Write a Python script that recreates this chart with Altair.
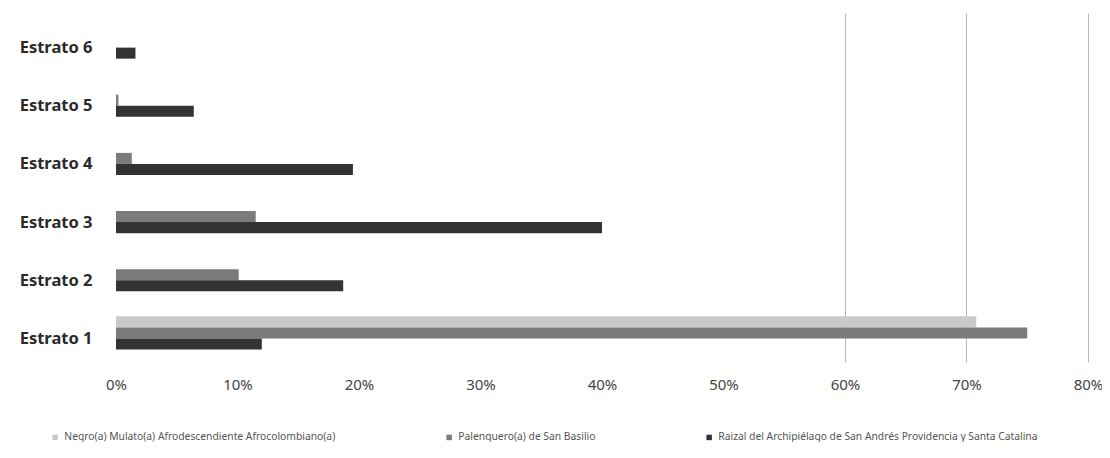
import altair as alt
import pandas as pd

estratos = ["Estrato 6", "Estrato 5", "Estrato 4", "Estrato 3", "Estrato 2", "Estrato 1"]
series = [
    "Negro(a) Mulato(a) Afrodescendiente Afrocolombiano(a)",
    "Palenquero(a) de San Basilio",
    "Raizal del Archipiélago de San Andrés Providencia y Santa Catalina",
]
negro = [0.0, 0.0, 0.0, 0.0, 0.0, 0.708]
palenquero = [0.0, 0.002, 0.013, 0.115, 0.101, 0.750]
raizal = [0.016, 0.064, 0.195, 0.400, 0.187, 0.120]
colors = ["#c9c9c9", "#7b7b7b", "#333333"]

rows = []
for vals, s in zip([negro, palenquero, raizal], series):
    for e, v in zip(estratos, vals):
        rows.append({"estrato": e, "serie": s, "valor": v})
df = pd.DataFrame(rows)

FONT = "Noto Sans"

chart = alt.Chart(df).mark_bar().encode(
    y=alt.Y("estrato:N", sort=estratos, title=None,
            scale=alt.Scale(paddingInner=0.43, paddingOuter=0.215),
            axis=alt.Axis(domain=False, ticks=False, labelFontSize=16.5,
                          labelFontWeight="bold",
                          labelColor="#2a2a2a", labelPadding=24, labelFont=FONT,
                          labelOffset=6)),
    yOffset=alt.YOffset("serie:N", sort=series),
    x=alt.X("valor:Q", title=None,
            scale=alt.Scale(domain=[0, 0.8]),
            axis=alt.Axis(format="%", values=[0, 0.1, 0.2, 0.3, 0.4, 0.5, 0.6, 0.7, 0.8],
                          domain=False, ticks=False, labelFontSize=15, labelFlush=False,
                          labelColor="#444", labelPadding=15, labelFont=FONT,
                          gridColor=alt.condition("datum.value >= 0.6", alt.value("#b5b5b5"), alt.value("#ffffff")))),
    color=alt.Color("serie:N", sort=series,
                    scale=alt.Scale(domain=series, range=colors),
                    legend=alt.Legend(title=None, orient="none", direction="horizontal",
                                      legendX=-66, legendY=419, symbolType="square",
                                      symbolSize=30, labelFontSize=10.3, labelColor="#555",
                                      labelFont=FONT, columnPadding=108, labelLimit=0)),
).properties(
    width=972, height=349,
    background="white",
    autosize=alt.AutoSizeParams(type="none"),
    padding={"left": 108, "top": 5, "right": 14, "bottom": 80},
).configure_view(stroke=None)

chart.save("out.html", embed_options={"renderer": "svg", "actions": False})
